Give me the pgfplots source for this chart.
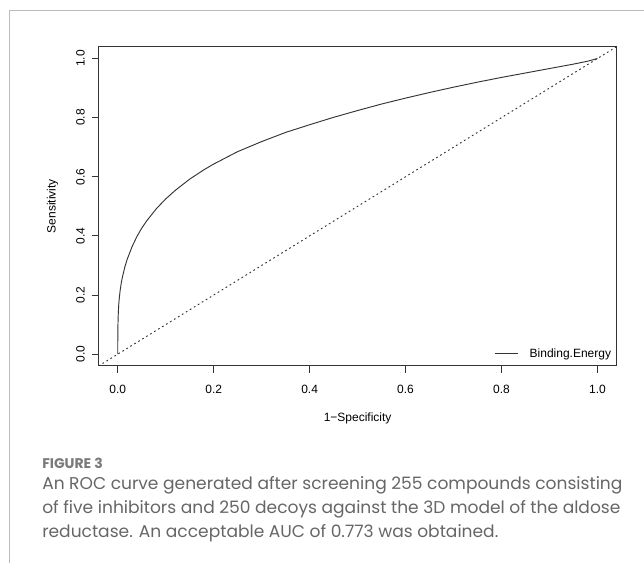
\documentclass[border=0pt]{standalone}
\usepackage{pgfplots}
\pgfplotsset{compat=1.18}
\usepackage{fontspec}
\setmainfont{Liberation Sans}
\newfontfamily\capfont{Poppins}
\definecolor{axisgray}{HTML}{333333}
\definecolor{framegray}{HTML}{BBBBBB}
\definecolor{capgray}{HTML}{666666}
\definecolor{figgray}{HTML}{7A7A7A}
\pgfplotstableread{
x y
0 0
0.0002 0.07
0.0005 0.10
0.001 0.13
0.002 0.165
0.003 0.185
0.005 0.215
0.0075 0.242
0.01 0.262
0.015 0.296
0.02 0.322
0.03 0.364
0.04 0.398
0.05 0.426
0.06 0.450
0.08 0.491
0.10 0.525
0.12 0.554
0.15 0.592
0.18 0.624
0.20 0.643
0.25 0.685
0.30 0.719
0.35 0.750
0.40 0.776
0.45 0.801
0.50 0.824
0.55 0.846
0.60 0.866
0.65 0.885
0.70 0.903
0.75 0.920
0.80 0.936
0.85 0.951
0.90 0.966
0.95 0.981
0.98 0.991
1.00 1.000
}\roc
\pgfplotstableread{
x y
-0.04 -0.04
1.04 1.04
}\diag
\begin{document}
\begin{tikzpicture}[x=1pt,y=1pt]
\path[use as bounding box] (0,0) rectangle (483,-422.25);
\draw[color=framegray, line width=0.75pt] (7,-422.25) -- (7,-8.25) -- (483,-8.25);
\begin{axis}[
  at={(73.9pt,-274.5pt)}, anchor=south west,
  scale only axis, width=388.6pt, height=239.5pt,
  xmin=-0.04, xmax=1.04, ymin=-0.04, ymax=1.04,
  xtick={0,0.2,0.4,0.6,0.8,1.0}, ytick={0,0.2,0.4,0.6,0.8,1.0},
  xticklabels={0.0,0.2,0.4,0.6,0.8,1.0},
  yticklabels={0.0,0.2,0.4,0.6,0.8,1.0},
  axis x line*=bottom, axis y line*=left,
  tick align=outside, major tick length=5.25pt,
  every tick/.style={color=axisgray, line width=0.75pt},
  axis line style={draw=none},
  axis background/.style={draw=axisgray, line width=0.75pt},
  xticklabel style={font=\fontsize{9}{10}\selectfont, anchor=center, yshift=-12pt},
  yticklabel style={font=\fontsize{9}{10}\selectfont, rotate=90, anchor=center, yshift=8.3pt},
  /pgf/number format/assume math mode=true,
  xlabel={1−Specificity}, ylabel={Sensitivity},
  xlabel style={font=\fontsize{9}{10}\selectfont, at={(axis description cs:0.5,-0.1628)}, anchor=center},
  ylabel style={font=\fontsize{9}{10}\selectfont, at={(axis description cs:-0.0890,0.5)}, anchor=center},
  legend style={at={(1,0)}, anchor=south east, draw=none, fill=none,
    font=\fontsize{9}{10}\selectfont, inner xsep=4pt, inner ysep=4.9pt,
    nodes={inner sep=0pt}},
  legend image code/.code={\draw[#1] (0pt,0pt) -- (16.7pt,0pt); \path (25.3pt,0pt);},
  clip=true,
]
\addplot[color=axisgray, line width=0.7pt] table[x=x,y=y] {\roc};
\addlegendentry{Binding.Energy}
\addplot[color=axisgray, line width=0.7pt, dash pattern=on 1.3pt off 2.2pt, forget plot] table[x=x,y=y] {\diag};
\end{axis}
\node[anchor=base west, inner sep=0pt, text=figgray, font=\capfont\bfseries\fontsize{10.5}{13}\selectfont] at (31.5,-351.75) {FIGURE 3};
\node[anchor=base west, inner sep=0pt, text=capgray, font=\capfont\fontsize{12.8}{15}\selectfont] at (31.5,-367.5) {An ROC curve generated after screening 255 compounds consisting};
\node[anchor=base west, inner sep=0pt, text=capgray, font=\capfont\fontsize{12.8}{15}\selectfont] at (31.5,-385.5) {of five inhibitors and 250 decoys against the 3D model of the aldose};
\node[anchor=base west, inner sep=0pt, text=capgray, font=\capfont\fontsize{12.8}{15}\selectfont] at (31.5,-403.5) {reductase. An acceptable AUC of 0.773 was obtained.};
\end{tikzpicture}
\end{document}
